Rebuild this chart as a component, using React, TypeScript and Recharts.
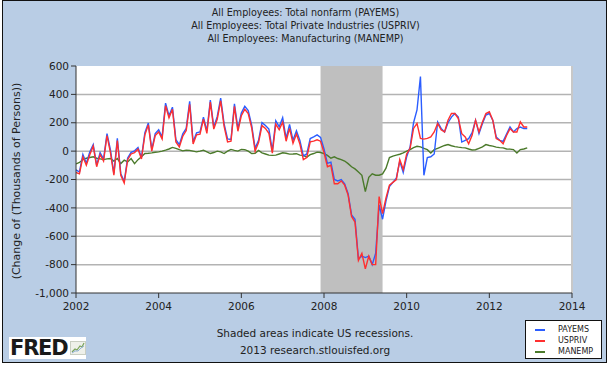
import React from "react";
import { LineChart, Line, XAxis, YAxis, CartesianGrid, ReferenceArea, ReferenceLine } from "recharts";

const START_YEAR = 2002;
const X_TICKS = [2002, 2004, 2006, 2008, 2010, 2012, 2014];
const Y_TICKS = [-1000, -800, -600, -400, -200, 0, 200, 400, 600];
const RECESSION_START = 2007 + 11 / 12;
const RECESSION_END = 2009 + 5 / 12;

const TITLES = [
  "All Employees: Total nonfarm (PAYEMS)",
  "All Employees: Total Private Industries (USPRIV)",
  "All Employees: Manufacturing (MANEMP)",
];

const FOOTER = ["Shaded areas indicate US recessions.", "2013 research.stlouisfed.org"];

// monthly change, thousands of persons, Jan 2002 .. Dec 2012
const PAYEMS = [
  -132, -147, -24, -85, -7, 46, -99, -11, -56, 124, 8, -158,
  90, -159, -213, -49, -9, 2, 25, -45, 130, 198, 13, 124,
  150, 100, 338, 249, 310, 81, 46, 122, 160, 351, 65, 129,
  135, 240, 142, 360, 171, 243, 373, 192, 86, 82, 334, 159,
  268, 316, 286, 183, 20, 76, 201, 180, 155, 3, 214, 171,
  236, 90, 188, 76, 143, 75, -34, -20, 89, 100, 114, 97,
  15, -86, -78, -200, -210, -200, -230, -300, -450, -480, -760, -740,
  -750, -740, -800, -720, -380, -480, -350, -250, -220, -190, -70, -150,
  -40, 30, 200, 290, 525, -170, -45, -40, -20, 205, 160, 135,
  200, 240, 265, 240, 64, 76, 88, 130, 218, 123, 194, 254,
  265, 218, 100, 76, 69, 120, 170, 135, 159, 170, 159, 159,
];

const USPRIV = [
  -150, -160, -40, -100, -25, 35, -110, -25, -70, 110, -10, -170,
  75, -170, -225, -60, -20, -10, 15, -55, 115, 185, 0, 110,
  135, 85, 320, 235, 295, 65, 30, 105, 145, 330, 50, 115,
  120, 225, 125, 345, 155, 225, 355, 175, 65, 70, 315, 140,
  250, 295, 265, 165, 0, 60, 180, 160, 125, -15, 190, 150,
  205, 70, 160, 55, 120, 50, -60, -45, 65, 70, 80, 70,
  -10, -110, -100, -230, -230, -210, -240, -310, -460, -500, -770, -720,
  -830, -740, -800, -800, -320, -440, -330, -240, -220, -200, -60, -130,
  -20, 20, 160, 195, 90, 85, 90, 100, 135, 195, 150, 135,
  218, 265, 265, 230, 123, 100, 52, 111, 218, 135, 206, 265,
  277, 218, 88, 76, 52, 110, 159, 135, 135, 206, 170, 170,
];

const MANEMP = [
  -90, -80, -60, -50, -45, -40, -50, -55, -60, -55, -52, -70,
  -52, -88, -64, -76, -52, -88, -60, -40, -17, -15, -12, -8,
  -5, 0, 7, 15, 26, 19, 10, 2, 7, 5, 0, -5,
  0, 7, -5, -17, -10, 0, -5, -17, 0, 12, 5, 0,
  12, 10, 0, -17, -15, 5, -12, -20, -28, -30, -28, -20,
  -12, -15, -21, -20, -18, -28, -30, -43, -25, -17, -7, -10,
  -17, -30, -50, -40, -52, -60, -70, -88, -110, -125, -147, -170,
  -285, -185, -160, -170, -170, -160, -120, -45, -35, -28, -22, -12,
  0, 11, 25, 34, 30, 20, 10, -13, 10, 20, 30, 40,
  46, 38, 32, 28, 25, 23, 15, 8, 10, 20, 30, 46,
  40, 35, 28, 25, 23, 15, 14, 11, -13, 11, 15, 23,
];

const SERIES = [
  { key: "payems", label: "PAYEMS", color: "#2b5dff" },
  { key: "usriv", label: "USPRIV", color: "#ff2f2f" },
  { key: "manemp", label: "MANEMP", color: "#4b7a2b" },
];

// green underneath, then blue, red on top
const DRAW_ORDER = ["manemp", "payems", "usriv"];

const data = PAYEMS.map((v, i) => ({
  t: START_YEAR + i / 12,
  payems: v,
  usriv: USPRIV[i],
  manemp: MANEMP[i],
}));

const FONT = "'DejaVu Sans', Verdana, sans-serif";
const fmt = (v: number) => v.toLocaleString("en-US");

export default function App() {
  return (
    <div style={{ position: "absolute", left: 0, top: 0, width: 611, height: 366, background: "#fff", fontFamily: FONT }}>
      <div
        style={{
          position: "absolute",
          left: 2,
          top: 0,
          width: 603,
          height: 361,
          background: "#b9cde5",
          border: "1px solid #111",
        }}
      />
      {TITLES.map((t, i) => (
        <div
          key={t}
          style={{ position: "absolute", left: 0, width: 611, top: 7 + i * 13, textAlign: "center", fontSize: 9.6, color: "#222" }}
        >
          {t}
        </div>
      ))}
      <div
        style={{
          position: "absolute",
          left: 16,
          top: 181,
          transform: "translate(-50%, -50%) rotate(-90deg)",
          whiteSpace: "nowrap",
          fontSize: 11,
          color: "#222",
        }}
      >
        (Change of (Thousands of Persons))
      </div>
      <div style={{ position: "absolute", left: 0, top: 0 }}>
        <LineChart width={611} height={366} data={data} margin={{ top: 66, right: 39, bottom: 43, left: 0 }}>
          <CartesianGrid
            vertical={false}
            horizontalValues={[-800, -600, -400, -200, 0, 200, 400]}
            stroke="#b3b3b3"
            strokeWidth={1.5}
            fill="#ffffff"
            fillOpacity={1}
          />
          <ReferenceArea x1={RECESSION_START} x2={RECESSION_END} fill="#bfbfbf" fillOpacity={1} stroke="none" />
          <ReferenceLine x={2014} stroke="#c8c8c8" strokeWidth={2} />
          <XAxis
            dataKey="t"
            type="number"
            domain={[2002, 2014]}
            ticks={X_TICKS}
            height={30}
            tickSize={5}
            tickMargin={5}
            stroke="#333"
            tick={{ fill: "#222", fontSize: 10.5, fontFamily: FONT }}
            axisLine={{ stroke: "#333" }}
            tickLine={{ stroke: "#333" }}
            allowDataOverflow
          />
          <YAxis
            type="number"
            domain={[-1000, 600]}
            ticks={Y_TICKS}
            width={76}
            tickSize={5}
            tickFormatter={fmt}
            tick={{ fill: "#222", fontSize: 10.5, fontFamily: FONT }}
            axisLine={{ stroke: "#333" }}
            tickLine={{ stroke: "#333" }}
          />
          {DRAW_ORDER.map((k) => {
            const s = SERIES.find((x) => x.key === k)!;
            return (
              <Line
                key={s.key}
                type="linear"
                dataKey={s.key}
                stroke={s.color}
                strokeWidth={1.4}
                dot={false}
                isAnimationActive={false}
              />
            );
          })}
        </LineChart>
      </div>
      {FOOTER.map((t, i) => (
        <div
          key={t}
          style={{ position: "absolute", left: 215, width: 200, top: 327 + i * 17, textAlign: "center", fontSize: 10.5, color: "#222", whiteSpace: "nowrap" }}
        >
          {t}
        </div>
      ))}
      <div
        style={{
          position: "absolute",
          left: 9,
          top: 337,
          width: 77,
          height: 22,
          background: "#fff",
          display: "flex",
          alignItems: "center",
        }}
      >
        <span style={{ fontFamily: "'DejaVu Sans', sans-serif", fontWeight: 900, fontSize: 21, letterSpacing: -1.2, color: "#1a1a1a", marginLeft: 1 }}>
          FRED
        </span>
        <svg width="16" height="14" style={{ marginLeft: 2 }}>
          <rect x="0.5" y="0.5" width="15" height="13" fill="#eef0ea" stroke="#c9cec2" />
          <polyline points="2,11 5,8 7,9 10,5 12,6 14,2" fill="none" stroke="#7aa35a" strokeWidth="1.2" />
          <polyline points="2,12 5,10 8,10 11,7 14,5" fill="none" stroke="#8fb0d6" strokeWidth="1" />
        </svg>
      </div>
      <div
        style={{
          position: "absolute",
          left: 525,
          top: 320,
          width: 77,
          height: 39,
          background: "#fff",
          border: "1px solid #111",
          boxSizing: "border-box",
          paddingTop: 3,
        }}
      >
        {SERIES.map((s) => (
          <div key={s.key} style={{ display: "flex", alignItems: "center", height: 11, fontSize: 8, color: "#222" }}>
            <span style={{ display: "inline-block", width: 10, height: 2, background: s.color, marginLeft: 9, marginRight: 13 }} />
            {s.label}
          </div>
        ))}
      </div>
    </div>
  );
}
